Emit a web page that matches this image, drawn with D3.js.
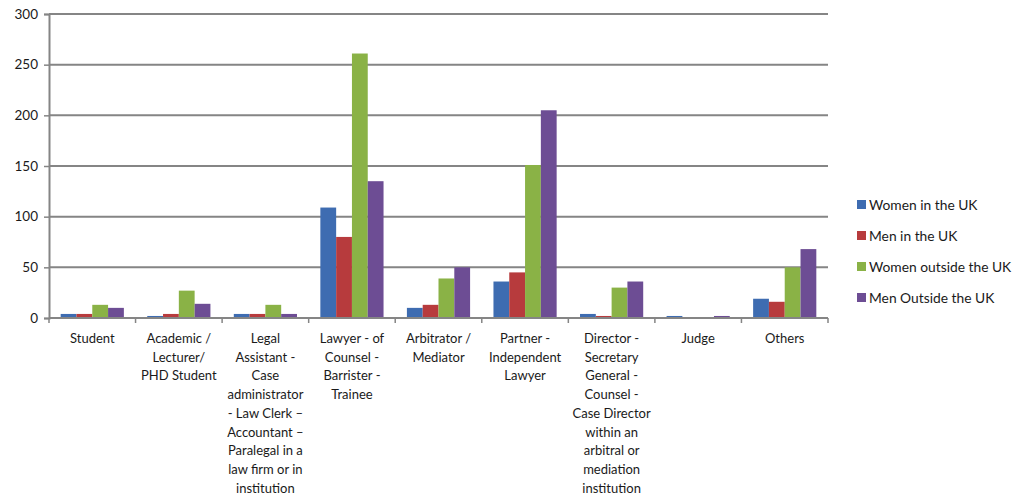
<!DOCTYPE html>
<html>
<head>
<meta charset="utf-8">
<script src="https://cdn.jsdelivr.net/npm/d3@7"></script>
<style>
  body { margin: 0; background: #fff; }
  svg text { font-family: Lato, "Open Sans", sans-serif; fill: #1a1a1a; }
</style>
</head>
<body>
<svg id="chart" width="1015" height="497"></svg>
<script>
// categories, one label line per array entry
const categories = [
    ["Student"],
    ["Academic /", "Lecturer/", "PHD Student"],
    ["Legal", "Assistant -", "Case", "administrator", "- Law Clerk \u2013", "Accountant \u2013", "Paralegal in a", "law firm  or in", "institution"],
    ["Lawyer - of", "Counsel -", "Barrister -", "Trainee"],
    ["Arbitrator  /", "Mediator"],
    ["Partner  -", "Independent", "Lawyer"],
    ["Director  -", "Secretary", "General -", "Counsel -", "Case Director", "within  an", "arbitral  or", "mediation", "institution"],
    ["Judge"],
    ["Others"]
];
const seriesNames = ["Women in the UK", "Men in the UK", "Women outside the UK", "Men Outside the UK"];
const womenUK = [4, 2, 4, 109, 10, 36, 4, 2, 19];
const menUK = [4, 4, 4, 80, 13, 45, 2, 0, 16];
const womenOutside = [13, 27, 13, 261, 39, 151, 30, 0, 50];
const menOutside = [10, 14, 4, 135, 50, 205, 36, 2, 68];
const yTicks = [0, 50, 100, 150, 200, 250, 300];
const colors = ["#3e6cb1", "#b73b3d", "#8ab246", "#6d4d94"];

const series = [womenUK, menUK, womenOutside, menOutside];
const margin = { left: 49, top: 14, right: 828, bottom: 318 };
const svg = d3.select("#chart");

const x = d3.scaleBand()
    .domain(d3.range(categories.length))
    .range([margin.left, margin.right])
    .paddingInner(0.27)
    .paddingOuter(0.135);
const xs = d3.scaleBand()
    .domain(d3.range(series.length))
    .range([0, x.bandwidth()]);
const y = d3.scaleLinear().domain([0, 300]).range([margin.bottom, margin.top]);

// gridlines
svg.append("g")
    .selectAll("line")
    .data(yTicks.filter(d => d > 0))
    .join("line")
    .attr("x1", margin.left)
    .attr("x2", margin.right)
    .attr("y1", d => y(d))
    .attr("y2", d => y(d))
    .attr("stroke", "#858585")
    .attr("stroke-width", 2);

// bars
series.forEach((values, si) => {
    svg.append("g")
        .selectAll("rect")
        .data(values)
        .join("rect")
        .attr("x", (d, i) => x(i) + xs(si))
        .attr("y", d => y(d))
        .attr("width", xs.bandwidth())
        .attr("height", d => y(0) - y(d))
        .attr("fill", colors[si]);
});

// y axis
const yAxis = svg.append("g")
    .attr("transform", `translate(${margin.left},0)`)
    .call(d3.axisLeft(y).tickValues(yTicks).tickSize(5).tickPadding(6));
yAxis.select(".domain").attr("stroke", "#858585").attr("stroke-width", 2);
yAxis.selectAll(".tick line").attr("stroke", "#858585").attr("stroke-width", 1.5);
yAxis.selectAll(".tick text").style("font-size", "13.5px").attr("fill", "#1a1a1a");

// x axis line and boundary ticks
const bounds = d3.range(categories.length + 1).map(i => margin.left + i * (margin.right - margin.left) / categories.length);
svg.append("line")
    .attr("x1", margin.left).attr("x2", margin.right)
    .attr("y1", y(0)).attr("y2", y(0))
    .attr("stroke", "#858585").attr("stroke-width", 2);
svg.append("g")
    .selectAll("line")
    .data(bounds)
    .join("line")
    .attr("x1", d => d).attr("x2", d => d)
    .attr("y1", y(0)).attr("y2", y(0) + 5)
    .attr("stroke", "#858585").attr("stroke-width", 1.5);

// x labels
const labels = svg.append("g")
    .selectAll("text")
    .data(categories)
    .join("text")
    .attr("text-anchor", "middle")
    .style("font-size", "13px")
    .attr("transform", (d, i) => `translate(${(bounds[i] + bounds[i + 1]) / 2},${y(0) + 25})`);
labels.selectAll("tspan")
    .data(d => d)
    .join("tspan")
    .attr("x", 0)
    .attr("dy", (d, i) => i === 0 ? 0 : 18.7)
    .text(d => d);

// legend
const legend = svg.append("g")
    .selectAll("g")
    .data(seriesNames)
    .join("g")
    .attr("transform", (d, i) => `translate(857,${205 + i * 31})`);
legend.append("rect")
    .attr("x", 0).attr("y", -5)
    .attr("width", 9).attr("height", 9)
    .attr("fill", (d, i) => colors[i]);
legend.append("text")
    .attr("x", 12).attr("y", 5)
    .style("font-size", "13.8px")
    .text(d => d);
</script>
</body>
</html>
